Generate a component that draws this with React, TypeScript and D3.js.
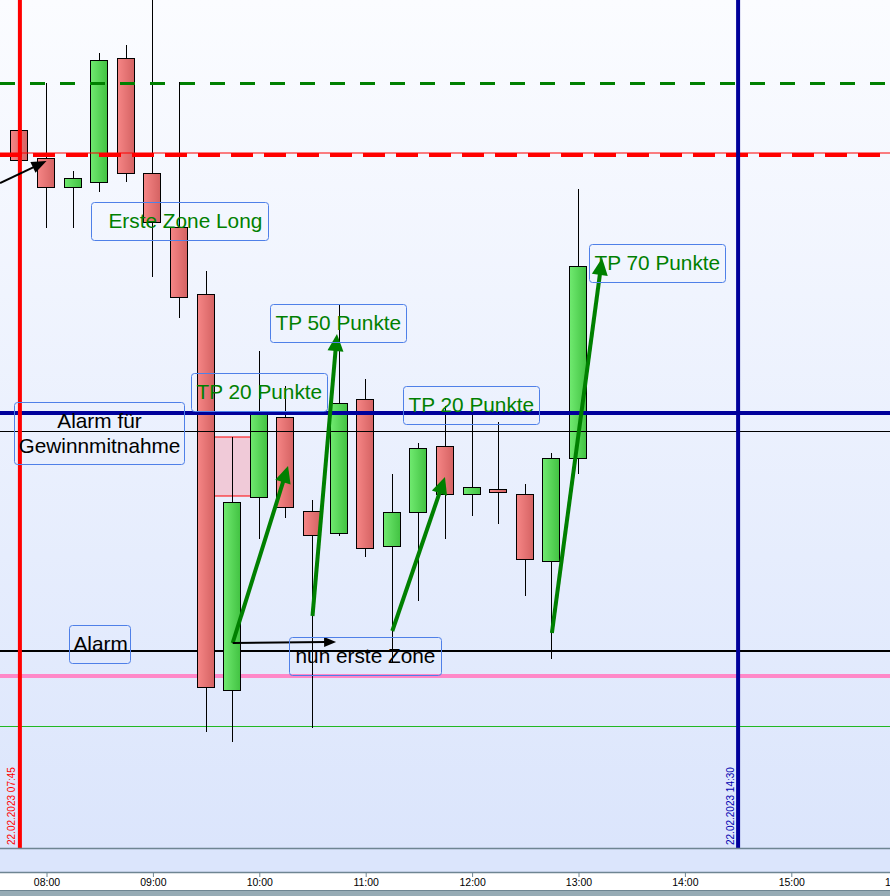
import React, { useEffect, useRef } from 'react'
import * as d3 from 'd3'

const W = 890
const H = 896
const PLOT_BOTTOM = 848
const AXIS_Y = 872

// 15-minute candles, 22.02.2023, first one at 07:45
const opens = [15444.0, 15438.4, 15432.6, 15433.6, 15458.4, 15435.4, 15424.6, 15411.2, 15332.0, 15370.6, 15386.6, 15367.8, 15363.4, 15390.2, 15360.8, 15367.6, 15380.8, 15371.2, 15372.2, 15371.2, 15357.8, 15378.4]
const highs = [15444.0, 15453.4, 15435.8, 15459.4, 15461.0, 15471.0, 15453.6, 15415.8, 15382.6, 15399.8, 15392.8, 15370.0, 15409.0, 15394.2, 15375.2, 15381.4, 15388.8, 15388.0, 15385.6, 15373.2, 15379.4, 15432.2]
const lows = [15438.0, 15424.4, 15424.4, 15431.6, 15433.6, 15414.6, 15406.4, 15323.6, 15321.6, 15362.2, 15366.4, 15324.4, 15362.8, 15358.6, 15337.6, 15349.8, 15362.2, 15366.8, 15365.2, 15350.8, 15338.2, 15375.2]
const closes = [15438.0, 15432.6, 15434.4, 15458.0, 15435.4, 15425.6, 15410.6, 15332.6, 15369.6, 15387.2, 15368.6, 15363.0, 15389.4, 15360.4, 15367.6, 15380.4, 15371.2, 15372.6, 15371.6, 15358.2, 15378.4, 15416.8]

// horizontal levels: green dashed, red dashed, blue, thin black, black, pink, thin green
const levelPrices = [15453.4, 15439.0, 15387.4, 15383.8, 15339.8, 15334.8, 15324.8]
// vertical markers
const markerTimes = [[7, 45], [14, 30]]
const markerLabels = ['22.02.2023 07:45', '22.02.2023 14:30']

// annotation texts, anchored at box top-left (time, price)
const noteTexts = [['Erste Zone Long'], ['TP 50 Punkte'], ['TP 20 Punkte'], ['TP 20 Punkte'], ['TP 70 Punkte'], ['Alarm für', 'Gewinnmitnahme'], ['Alarm'], ['nun erste Zone']]
const noteTimes = [[8, 25.1], [10, 6.0], [9, 21.5], [11, 21.0], [13, 6.0], [7, 41.7], [8, 12.7], [10, 16.7]]
const notePrices = [15429.6, 15409.2, 15395.4, 15392.8, 15421.2, 15389.6, 15345.0, 15342.6]

// arrows: start (time, price) -> tip (time, price)
const arrowFrom = [[9, 45, 15341.4], [10, 30, 15346.8], [11, 15, 15343.8], [12, 45, 15343.4], [7, 33.8, 15433.4], [9, 45, 15341.4]]
const arrowTo = [[10, 16.2, 15376.8], [10, 43.8, 15403.2], [11, 44.7, 15374.6], [13, 13.3, 15418.4], [8, 0, 15437.8], [10, 43.3, 15341.6]]

// zone rectangle
const zoneTimes = [[9, 29.4], [9, 59.3]]
const zonePrices = [15382.6, 15370.8]

const day = (h: number, m: number) => new Date(2023, 1, 22, h, 0, 0, m * 60000)

function drawChart(el: SVGSVGElement) {
  const svg = d3.select(el)
  svg.selectAll('*').remove()

  const pxPerHour = 106.4
  const t8 = +day(8, 0)
  const hoursShown = 8.2
  const x = d3.scaleTime()
    .domain([new Date(t8 - (46.5 / pxPerHour) * 3600000), new Date(t8 + hoursShown * 3600000)])
    .range([0, 46.5 + hoursShown * pxPerHour])
  const y = d3.scaleLinear().domain([15300.4, 15470]).range([PLOT_BOTTOM, 0])

  const defs = svg.append('defs')
  const bg = defs.append('linearGradient').attr('id', 'bg').attr('x1', 0).attr('y1', 0).attr('x2', 0).attr('y2', 1)
  bg.append('stop').attr('offset', 0).attr('stop-color', '#fbfcff')
  bg.append('stop').attr('offset', 1).attr('stop-color', '#dbe5fc')
  const gUp = defs.append('linearGradient').attr('id', 'up')
  gUp.append('stop').attr('offset', 0).attr('stop-color', '#70ea70')
  gUp.append('stop').attr('offset', 1).attr('stop-color', '#42c242')
  const gDn = defs.append('linearGradient').attr('id', 'dn')
  gDn.append('stop').attr('offset', 0).attr('stop-color', '#f68686')
  gDn.append('stop').attr('offset', 1).attr('stop-color', '#d46262')
  defs.append('clipPath').attr('id', 'plot').append('rect').attr('width', W).attr('height', PLOT_BOTTOM)

  svg.append('rect').attr('width', W).attr('height', H).attr('fill', '#ffffff')
  svg.append('rect').attr('width', W).attr('height', PLOT_BOTTOM).attr('fill', 'url(#bg)')
  svg.append('rect').attr('y', PLOT_BOTTOM).attr('width', W).attr('height', AXIS_Y - PLOT_BOTTOM).attr('fill', '#dbe5fc')
  svg.append('rect').attr('y', 890).attr('width', W).attr('height', 6).attr('fill', '#96abb5')
  svg.append('line').attr('x1', 0).attr('x2', W).attr('y1', 890.5).attr('y2', 890.5).attr('stroke', '#6e8592')

  const plot = svg.append('g').attr('clip-path', 'url(#plot)')

  // zone rectangle behind candles
  plot.append('rect')
    .attr('x', x(day(zoneTimes[0][0], zoneTimes[0][1])))
    .attr('y', y(zonePrices[0]))
    .attr('width', x(day(zoneTimes[1][0], zoneTimes[1][1])) - x(day(zoneTimes[0][0], zoneTimes[0][1])))
    .attr('height', y(zonePrices[1]) - y(zonePrices[0]))
    .attr('fill', '#f0cad8').attr('stroke', '#ff0000').attr('stroke-width', 1)

  const levelStyle = [
    { c: '#008000', w: 3, d: '15 15', top: true },
    { c: '#ff0000', w: 4, d: '22 11', top: true },
    { c: '#00009b', w: 4, d: null, top: true },
    { c: '#000000', w: 1, d: null, top: true },
    { c: '#000000', w: 2, d: null, top: false },
    { c: '#ff88c8', w: 4, d: null, top: false },
    { c: '#22b822', w: 1, d: null, top: false },
  ]
  const drawLevels = (top: boolean) => {
    levelPrices.forEach((p, i) => {
      const s = levelStyle[i]
      if (s.top !== top) return
      const yy = Math.round(y(p)) + (s.w % 2 ? 0.5 : 0)
      if (i === 1) {
        plot.append('line').attr('x1', 0).attr('x2', W).attr('y1', yy - 2).attr('y2', yy - 2)
          .attr('stroke', '#ff0000').attr('stroke-width', 1)
      }
      plot.append('line').attr('x1', 0).attr('x2', W).attr('y1', yy).attr('y2', yy)
        .attr('stroke', s.c).attr('stroke-width', s.w).attr('stroke-dasharray', s.d)
    })
  }
  drawLevels(false)

  // candles
  const times = opens.map((_, i) => new Date(+day(7, 45) + i * 15 * 60000))
  const cg = plot.append('g')
  times.forEach((t, i) => {
    const cx = Math.floor(x(t)) + 0.5
    const up = closes[i] >= opens[i]
    cg.append('line').attr('x1', cx).attr('x2', cx).attr('y1', y(highs[i])).attr('y2', y(lows[i]))
      .attr('stroke', '#000').attr('stroke-width', 1)
    const top = y(Math.max(opens[i], closes[i]))
    const bot = y(Math.min(opens[i], closes[i]))
    cg.append('rect').attr('x', cx - 9).attr('y', Math.round(top) + 0.5)
      .attr('width', 17).attr('height', Math.max(2, Math.round(bot - top)))
      .attr('fill', up ? 'url(#up)' : 'url(#dn)').attr('stroke', '#000').attr('stroke-width', 1)
  })

  drawLevels(true)

  // vertical markers
  const markerColors = ['#ff0000', '#00009b']
  const labelColors = ['#ff0000', '#0000b0']
  markerTimes.forEach((mt, i) => {
    const mx = x(day(mt[0], mt[1]))
    plot.append('line').attr('x1', mx).attr('x2', mx).attr('y1', 0).attr('y2', PLOT_BOTTOM)
      .attr('stroke', markerColors[i]).attr('stroke-width', 4)
    plot.append('text').attr('transform', `translate(${mx - 4.5},${PLOT_BOTTOM - 3}) rotate(-90)`)
      .attr('font-family', '"Liberation Sans", Arial, sans-serif').attr('font-size', 10)
      .attr('fill', labelColors[i]).text(markerLabels[i])
  })

  // arrows
  const arrowColor = ['#008000', '#008000', '#008000', '#008000', '#000000', '#000000']
  const arrowWidth = [4, 4, 4, 4, 2, 2]
  const headLen = [17, 17, 17, 17, 15, 12]
  const headHalf = [8, 8, 8, 8, 6, 5]
  arrowFrom.forEach((a, i) => {
    const b = arrowTo[i]
    const x1 = x(day(a[0], a[1])), y1 = y(a[2])
    const x2 = x(day(b[0], b[1])), y2 = y(b[2])
    const len = Math.hypot(x2 - x1, y2 - y1)
    const ux = (x2 - x1) / len, uy = (y2 - y1) / len
    const bx = x2 - ux * headLen[i], by = y2 - uy * headLen[i]
    plot.append('line').attr('x1', x1).attr('y1', y1).attr('x2', bx + ux * 2).attr('y2', by + uy * 2)
      .attr('stroke', arrowColor[i]).attr('stroke-width', arrowWidth[i])
    const pts = [[x2, y2], [bx - uy * headHalf[i], by + ux * headHalf[i]], [bx + uy * headHalf[i], by - ux * headHalf[i]]]
    plot.append('polygon').attr('points', pts.map(p => p.join(',')).join(' ')).attr('fill', arrowColor[i])
  })

  // annotations
  const boxW = [177, 136, 136, 136, 136, 170, 61, 152]
  const textColor = ['#008000', '#008000', '#008000', '#008000', '#008000', '#000000', '#000000', '#000000']
  const textDx = [17, 5, 5, 5, 5, 0, 4, 6]
  noteTexts.forEach((lines, i) => {
    const bx = Math.round(x(day(noteTimes[i][0], noteTimes[i][1]))) + 0.5
    const by = Math.round(y(notePrices[i])) + 0.5
    const bh = lines.length > 1 ? 62 : 38
    plot.append('rect').attr('x', bx).attr('y', by).attr('width', boxW[i]).attr('height', bh)
      .attr('rx', 3).attr('fill', 'none').attr('stroke', '#4f80e8').attr('stroke-width', 1)
    lines.forEach((ln, j) => {
      const centered = lines.length > 1
      plot.append('text')
        .attr('x', centered ? bx + boxW[i] / 2 : bx + textDx[i])
        .attr('y', by + 25 + j * 25)
        .attr('text-anchor', centered ? 'middle' : 'start')
        .attr('font-family', '"Liberation Sans", Arial, sans-serif').attr('font-size', 20.8)
        .attr('fill', textColor[i]).text(ln)
    })
  })

  // frame lines and time axis
  svg.append('line').attr('x1', 0).attr('x2', W).attr('y1', PLOT_BOTTOM + 0.5).attr('y2', PLOT_BOTTOM + 0.5)
    .attr('stroke', '#6e8592').attr('stroke-width', 1.5)
  svg.append('line').attr('x1', 0).attr('x2', W).attr('y1', AXIS_Y + 0.5).attr('y2', AXIS_Y + 0.5)
    .attr('stroke', '#6e8592').attr('stroke-width', 1.5)
  const axis = svg.append('g').attr('transform', `translate(0,${AXIS_Y})`)
    .call(d3.axisBottom(x).ticks(d3.timeHour.every(1)).tickFormat(d3.timeFormat('%H:%M') as any).tickSize(5).tickPadding(2))
  axis.select('.domain').remove()
  axis.selectAll('.tick line').attr('stroke', '#6e8592')
  axis.selectAll('.tick text').attr('font-family', '"Liberation Sans", Arial, sans-serif')
    .attr('font-size', 10.5).attr('fill', '#000')
}

export default function App() {
  const ref = useRef<SVGSVGElement>(null)
  useEffect(() => {
    if (ref.current) drawChart(ref.current)
  }, [])
  return (
    <div style={{ position: 'absolute', left: 0, top: 0, width: W, height: H, overflow: 'hidden' }}>
      <svg ref={ref} width={W} height={H} style={{ display: 'block' }} />
    </div>
  )
}
